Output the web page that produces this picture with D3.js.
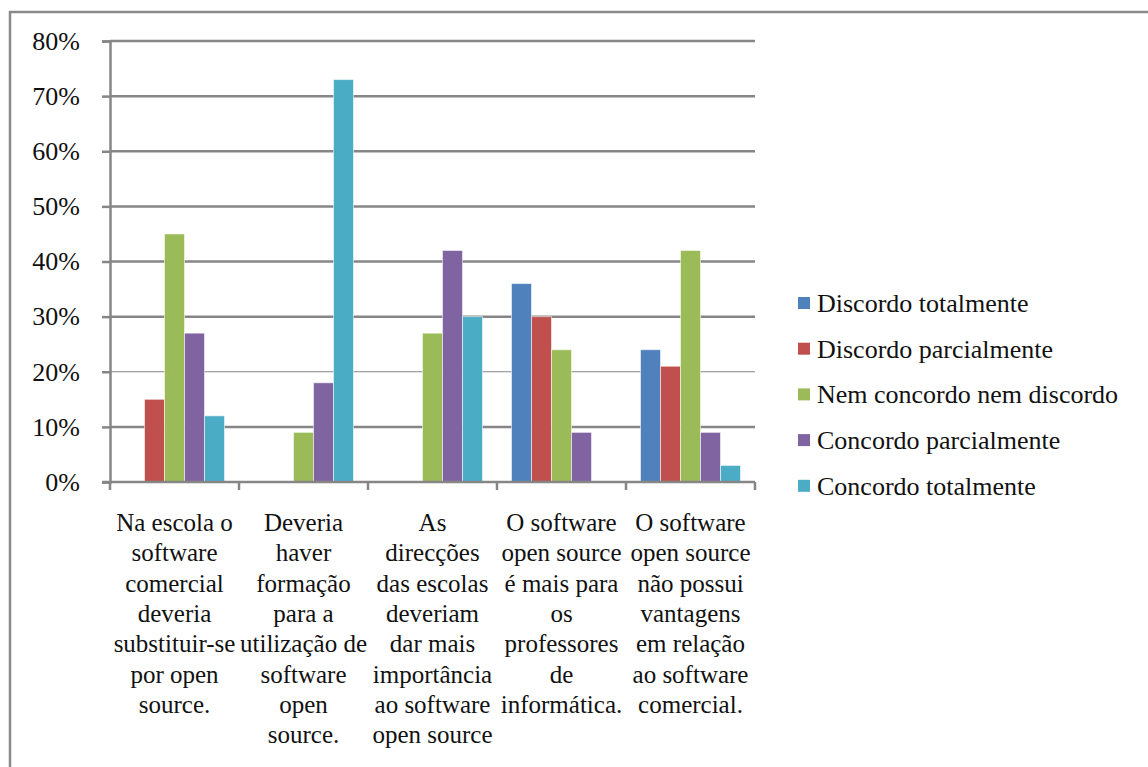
<!DOCTYPE html>
<html>
<head>
<script src="https://cdn.jsdelivr.net/npm/d3@7/dist/d3.min.js"></script>
</head>
<body style="margin:0">
<svg id="chart" width="1148" height="767"></svg>
<script>
// categories (label lines as wrapped in the original)
var categories = [
  ["Na escola o", "software", "comercial", "deveria", "substituir-se", "por open", "source."],
  ["Deveria", "haver", "formação", "para a", "utilização de", "software", "open", "source."],
  ["As", "direcções", "das escolas", "deveriam", "dar mais", "importância", "ao software", "open source"],
  ["O software", "open source", "é mais para", "os", "professores", "de", "informática."],
  ["O software", "open source", "não possui", "vantagens", "em relação", "ao software", "comercial."]
];

var seriesNames = [
  "Discordo totalmente",
  "Discordo parcialmente",
  "Nem concordo nem discordo",
  "Concordo parcialmente",
  "Concordo totalmente"
];

var seriesColors = ["#4F81BD", "#C0504D", "#9BBB59", "#8064A2", "#4BACC6"];

// values per series, one per category
var discordoTotal   = [0.00, 0.00, 0.00, 0.36, 0.24];
var discordoParcial = [0.15, 0.00, 0.00, 0.30, 0.21];
var nemNem          = [0.45, 0.09, 0.27, 0.24, 0.42];
var concordoParcial = [0.27, 0.18, 0.42, 0.09, 0.09];
var concordoTotal   = [0.12, 0.73, 0.30, 0.00, 0.03];

var yTicks = [0, 0.1, 0.2, 0.3, 0.4, 0.5, 0.6, 0.7, 0.8];

var series = [discordoTotal, discordoParcial, nemNem, concordoParcial, concordoTotal];

var svg = d3.select("#chart");

// outer chart border (only top and left visible in the picture)
svg.append("rect")
  .attr("x", 10).attr("y", 12)
  .attr("width", 1200).attr("height", 800)
  .attr("fill", "none")
  .attr("stroke", "#8a8a8a")
  .attr("stroke-width", 2.5);

var margin = {left: 110, top: 41, right: 755, bottom: 482};

var x0 = d3.scaleBand()
  .domain(d3.range(categories.length))
  .range([margin.left, margin.right])
  .paddingInner(0.225)
  .paddingOuter(0.1125);

// full category slots for the ticks
var slot = d3.scaleBand()
  .domain(d3.range(categories.length))
  .range([margin.left, margin.right]);

var x1 = d3.scaleBand()
  .domain(d3.range(series.length))
  .range([0, x0.bandwidth()]);

var y = d3.scaleLinear()
  .domain([0, 0.8])
  .range([margin.bottom, margin.top]);

// gridlines
svg.append("g")
  .selectAll("line")
  .data(yTicks.slice(1))
  .enter().append("line")
  .attr("x1", margin.left).attr("x2", margin.right)
  .attr("y1", function(d) { return y(d); })
  .attr("y2", function(d) { return y(d); })
  .attr("stroke", "#868686")
  .attr("stroke-width", function(d) { return Math.abs(d - 0.2) < 1e-9 ? 1.2 : 2.5; });

// bars
var groups = svg.append("g")
  .selectAll("g")
  .data(categories)
  .enter().append("g")
  .attr("transform", function(d, i) { return "translate(" + x0(i) + ",0)"; });

groups.selectAll("rect")
  .data(function(d, i) {
    return series.map(function(s, k) { return {k: k, v: s[i]}; });
  })
  .enter().append("rect")
  .filter(function(d) { return d.v > 0; })
  .attr("x", function(d) { return x1(d.k); })
  .attr("width", x1.bandwidth())
  .attr("y", function(d) { return y(d.v); })
  .attr("height", function(d) { return y(0) - y(d.v); })
  .attr("fill", function(d) { return seriesColors[d.k]; })
  .attr("stroke", "rgba(255,255,255,0.55)")
  .attr("stroke-width", 1);

// y axis
var yAxis = svg.append("g")
  .attr("transform", "translate(" + margin.left + ",0)")
  .call(d3.axisLeft(y)
    .tickValues(yTicks)
    .tickFormat(d3.format(".0%"))
    .tickSize(8)
    .tickPadding(22));
yAxis.attr("font-family", "serif").attr("font-size", 26);
yAxis.select(".domain").attr("stroke", "#868686").attr("stroke-width", 2.5);
yAxis.selectAll(".tick line").attr("stroke", "#868686").attr("stroke-width", 2.5);
yAxis.selectAll(".tick text").attr("fill", "#111");

// x axis baseline and category ticks
var xAxis = svg.append("g")
  .attr("transform", "translate(0," + margin.bottom + ")");
xAxis.append("line")
  .attr("x1", margin.left - 8).attr("x2", margin.right)
  .attr("stroke", "#868686").attr("stroke-width", 2.5);
xAxis.selectAll("line.tk")
  .data(d3.range(categories.length + 1))
  .enter().append("line")
  .attr("class", "tk")
  .attr("x1", function(d) { return margin.left + d * slot.step(); })
  .attr("x2", function(d) { return margin.left + d * slot.step(); })
  .attr("y1", 0).attr("y2", 8)
  .attr("stroke", "#868686").attr("stroke-width", 2.5);

// category labels
var lineH = 30.3;
svg.append("g")
  .selectAll("text")
  .data(categories)
  .enter().append("text")
  .attr("text-anchor", "middle")
  .attr("fill", "#111")
  .attr("font-family", "serif")
  .attr("font-size", 25)
  .each(function(lines, i) {
    var t = d3.select(this);
    lines.forEach(function(l, j) {
      t.append("tspan")
        .attr("x", slot(i) + slot.bandwidth() / 2)
        .attr("y", 531 + j * lineH)
        .text(l);
    });
  });

// legend
var legend = svg.append("g")
  .selectAll("g")
  .data(seriesNames)
  .enter().append("g")
  .attr("transform", function(d, i) { return "translate(798," + (303 + i * 45.7) + ")"; });

legend.append("rect")
  .attr("x", 0).attr("y", -6)
  .attr("width", 12).attr("height", 12)
  .attr("fill", function(d, i) { return seriesColors[i]; });

legend.append("text")
  .attr("x", 19).attr("y", 9)
  .attr("fill", "#111")
  .attr("font-family", "serif")
  .attr("font-size", 26)
  .text(function(d) { return d; });
</script>
</body>
</html>
